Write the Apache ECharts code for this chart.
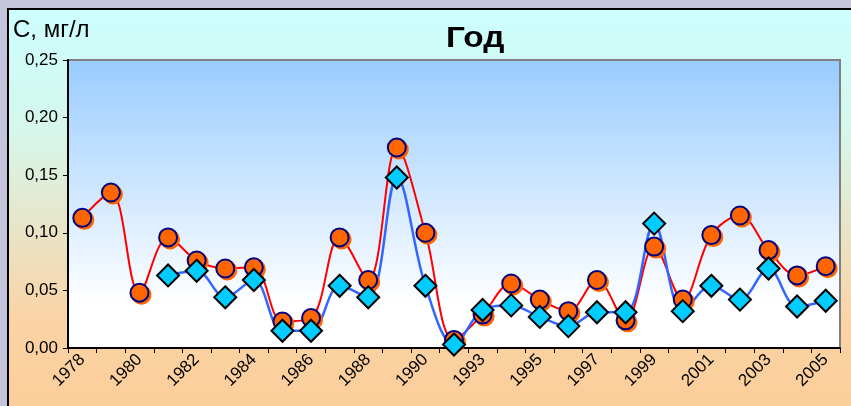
<!DOCTYPE html>
<html><head><meta charset="utf-8">
<script src="https://cdn.jsdelivr.net/npm/echarts@6/dist/echarts.min.js"></script>
<style>html,body{margin:0;padding:0;background:#c4c4dc;}#c{width:851px;height:406px;}</style>
</head><body><div id="c"></div>
<script>
var years = ['1978','1979','1980','1981','1982','1983','1984','1985','1986','1987','1988','1989','1990','1992','1993','1994','1995','1996','1997','1998','1999','2000','2001','2002','2003','2004','2005'];
var seriesA = [0.113,0.135,0.048,0.096,0.076,0.069,0.070,0.023,0.026,0.096,0.059,0.174,0.100,0.007,0.029,0.056,0.042,0.032,0.059,0.024,0.088,0.042,0.098,0.115,0.085,0.063,0.071];
var seriesB = [null,null,null,0.063,0.067,0.044,0.059,0.015,0.015,0.054,0.044,0.148,0.054,0.003,0.033,0.037,0.027,0.019,0.031,0.031,0.108,0.032,0.054,0.042,0.069,0.036,0.041];
var yTicks = {min:0, max:0.25, step:0.05};

var chart = echarts.init(document.getElementById('c'), null, {renderer:'canvas'});
chart.setOption({
  backgroundColor:'#c4c4dc',
  animation:false,
  graphic:[{
    type:'rect', z:-10, silent:true,
    shape:{x:8, y:9, width:860, height:420},
    style:{
      fill:new echarts.graphic.LinearGradient(0,0,0,1,[{offset:0,color:'#ccffff'},{offset:0.3,color:'#d6f6ea'},{offset:0.75,color:'#fbd3a4'},{offset:1,color:'#fccc98'}]),
      stroke:'#000', lineWidth:2
    }
  },{
    type:'text', left:13, top:18, z:10,
    style:{text:'С, мг/л', font:'24px Arial, "Liberation Sans"', fill:'#000'}
  },{
    type:'text', left:446, top:24, z:10, scaleX:1.15, originX:446,
    style:{text:'Год', font:'bold 29px Arial, "Liberation Sans"', fill:'#000'}
  }],
  grid:{
    left:68, right:11, top:60, bottom:58, show:true,
    backgroundColor:new echarts.graphic.LinearGradient(0,0,0,1,[{offset:0,color:'#99ccff'},{offset:0.85,color:'#ffffff'},{offset:1,color:'#ffffff'}]),
    borderColor:'#808080', borderWidth:2
  },
  xAxis:{
    type:'category', data:years, boundaryGap:true,
    axisLine:{lineStyle:{color:'#000', width:2}},
    axisTick:{show:true, interval:0, length:5, lineStyle:{color:'#000', width:1}},
    axisLabel:{interval:1, rotate:45, fontFamily:'Arial, "Liberation Sans"', fontSize:17, color:'#000', margin:9}
  },
  yAxis:{
    type:'value', min:yTicks.min, max:yTicks.max, interval:yTicks.step,
    axisLine:{show:true, lineStyle:{color:'#000', width:2}},
    axisTick:{show:true, length:5, lineStyle:{color:'#000'}},
    splitLine:{show:false},
    axisLabel:{fontFamily:'Arial, "Liberation Sans"', fontSize:17, color:'#000', margin:10,
      formatter:function(v){return v.toFixed(2).replace('.',',');}}
  },
  series:[{
    type:'line', data:seriesA, smooth:0.35, showAllSymbol:true,
    lineStyle:{color:'#ff0000', width:2},
    symbol:'circle', symbolSize:18,
    itemStyle:{color:'#ff6600', borderColor:'#000080', borderWidth:2, shadowColor:'#ff6600', shadowOffsetX:2, shadowOffsetY:2, shadowBlur:0}
  },{
    type:'line', data:seriesB, smooth:0.35, connectNulls:false, showAllSymbol:true,
    lineStyle:{color:'#3366ff', width:2.5},
    symbol:'diamond', symbolSize:[22,22],
    itemStyle:{color:'#00ccff', borderColor:'#000', borderWidth:2}
  }]
});
</script></body></html>
